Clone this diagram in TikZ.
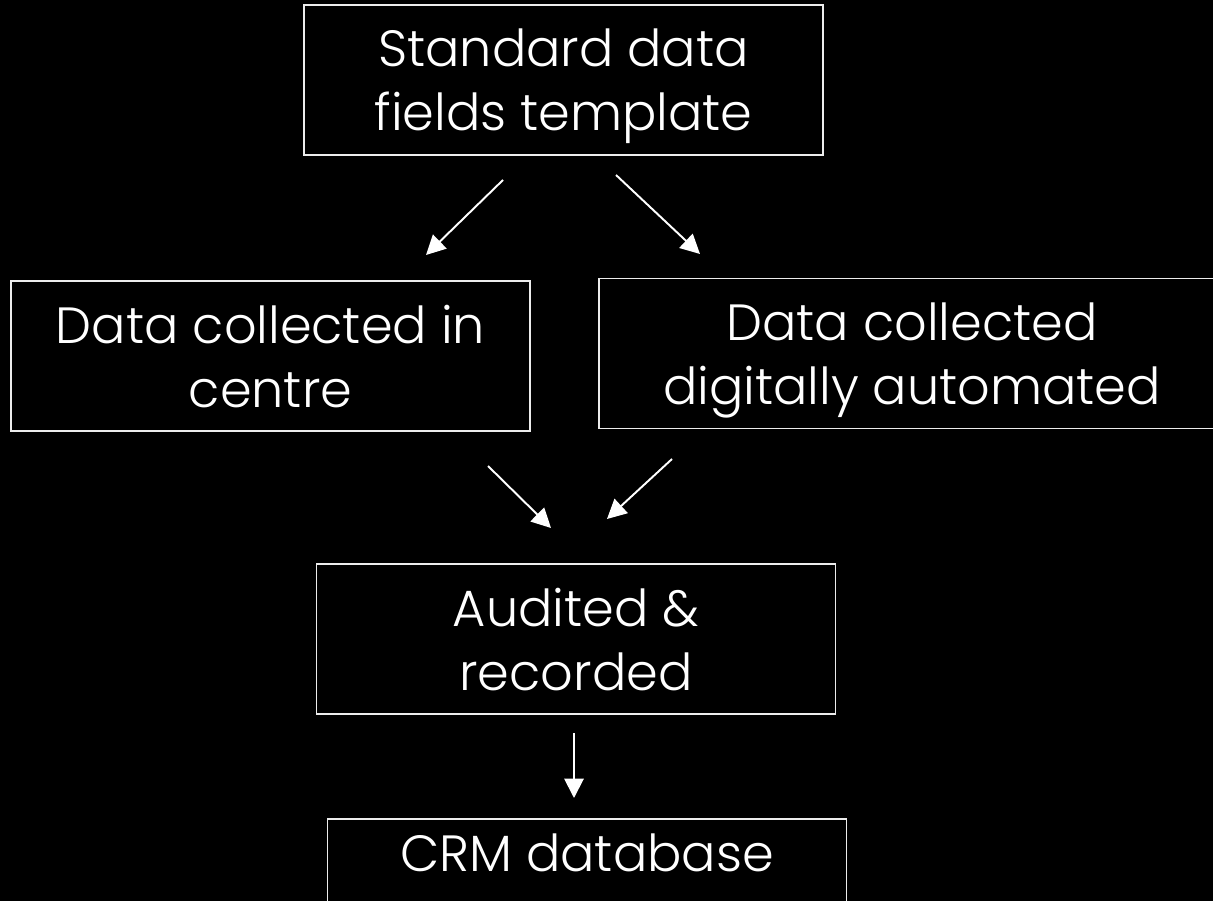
\documentclass[tikz,border=0pt]{standalone}
\usepackage{fontspec}
\setmainfont{Poppins}[UprightFont=* Light]
\usetikzlibrary{arrows.meta}

\begin{document}
\begin{tikzpicture}[
    x=0.02cm, y=-0.02cm,
    stage/.style={rectangle, draw=white!85!gray, line width=1pt, text=white,
        align=center, minimum width=10.38cm, minimum height=3cm, text depth=0pt,
        font=\fontsize{29}{36.5}\selectfont},
    flow/.style={white, line width=1.1pt, -{Triangle[length=11pt, width=11pt]}}
]

% Page
\clip (0,0) rectangle (1213,901);
\fill[black] (0,0) rectangle (1213,901);

% Boxes
\node[stage] (tmpl) at (563.5,80) {Standard data\\fields template};
\node[stage] (centre) at (270.5,356) {Data collected in\\centre};
\node[stage, minimum width=12.52cm] (digital) at (912,353.5) {Data collected\\digitally automated};
\node[stage] (audit) at (576,639) {Audited \&\\recorded};
\node[stage, anchor=north, minimum height=0pt, inner ysep=0.3cm, text depth=3cm] (crm) at (587,818) {CRM database};

% Arrow ends
\coordinate (a1s) at (503,180);  \coordinate (a1e) at (426,255);
\coordinate (a2s) at (616,175);  \coordinate (a2e) at (700,254);
\coordinate (a3s) at (488,466);  \coordinate (a3e) at (551,528);
\coordinate (a4s) at (672,459);  \coordinate (a4e) at (607,519);
\coordinate (a5s) at (574,733);  \coordinate (a5e) at (574,798);

% Arrows
\draw[flow] (a1s) -- (a1e);
\draw[flow] (a2s) -- (a2e);
\draw[flow] (a3s) -- (a3e);
\draw[flow] (a4s) -- (a4e);
\draw[flow] (a5s) -- (a5e);

\end{tikzpicture}
\end{document}
